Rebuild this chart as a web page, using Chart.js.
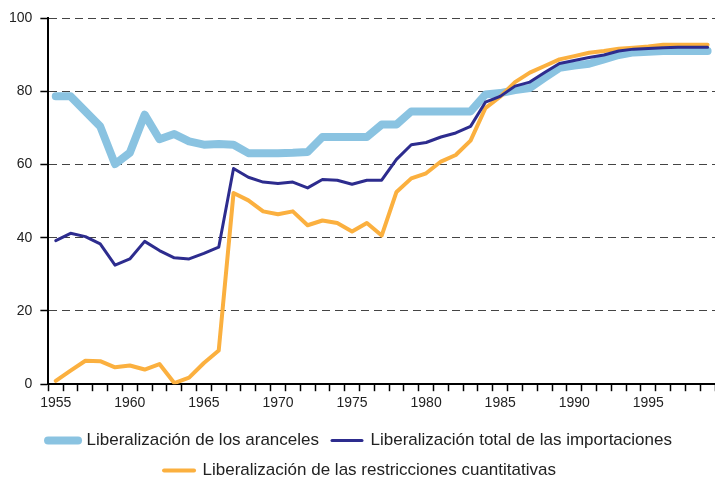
<!DOCTYPE html>
<html>
<head>
<meta charset="utf-8">
<script src="https://cdn.jsdelivr.net/npm/chart.js@4"></script>
<style>
  html, body { margin: 0; padding: 0; background: #fff; }
  #wrap { width: 715px; height: 481px; position: relative; }
</style>
</head>
<body>
<div id="wrap"><canvas id="liberalizacionChart"></canvas></div>
<script>
const years = [
    '1955', '1956', '1957', '1958', '1959', '1960', '1961', '1962', '1963', '1964',
    '1965', '1966', '1967', '1968', '1969', '1970', '1971', '1972', '1973', '1974',
    '1975', '1976', '1977', '1978', '1979', '1980', '1981', '1982', '1983', '1984',
    '1985', '1986', '1987', '1988', '1989', '1990', '1991', '1992', '1993', '1994',
    '1995', '1996', '1997', '1998', '1999'
];

const aranceles = [
    78.6, 78.6, 74.5, 70.4, 60.1, 63.2, 73.6, 66.9, 68.3, 66.3,
    65.4, 65.6, 65.4, 63.1, 63.1, 63.1, 63.2, 63.4, 67.5, 67.5,
    67.5, 67.5, 70.9, 70.9, 74.5, 74.5, 74.5, 74.5, 74.5, 79.1,
    79.5, 80.3, 80.9, 83.7, 86.4, 87.0, 87.5, 88.7, 89.9, 90.6,
    90.8, 91.0, 91.0, 91.0, 91.0
];

const importacionesTotal = [
    39.2, 41.2, 40.3, 38.3, 32.5, 34.2, 39.0, 36.5, 34.5, 34.2,
    35.7, 37.4, 58.9, 56.5, 55.2, 54.8, 55.2, 53.6, 55.9, 55.7,
    54.6, 55.7, 55.7, 61.4, 65.4, 66.0, 67.5, 68.6, 70.4, 77.0,
    78.6, 81.4, 82.5, 85.1, 87.6, 88.4, 89.2, 89.9, 91.0, 91.5,
    91.7, 91.9, 92.0, 92.0, 92.0
];

const restricciones = [
    0.9, 3.7, 6.4, 6.3, 4.6, 5.1, 4.0, 5.5, 0.3, 1.8,
    5.8, 9.2, 52.2, 50.2, 47.2, 46.4, 47.2, 43.4, 44.7, 44.0,
    41.7, 44.0, 40.6, 52.5, 56.2, 57.6, 60.8, 62.6, 66.5, 75.4,
    78.5, 82.5, 85.1, 86.9, 88.7, 89.6, 90.5, 91.0, 91.6, 91.9,
    92.2, 92.7, 92.7, 92.7, 92.7
];

const yTicks = [0, 20, 40, 60, 80, 100];

const FONT = "'Liberation Sans', Arial, sans-serif";

const ctx = document.getElementById('liberalizacionChart').getContext('2d');
new Chart(ctx, {
    type: 'line',
    data: {
        labels: years,
        datasets: [{
            label: 'Liberalización de los aranceles',
            data: aranceles,
            borderColor: '#8ac3e1',
            borderWidth: 8,
            order: 3
        }, {
            label: 'Liberalización total de las importaciones',
            data: importacionesTotal,
            borderColor: '#2d2c8e',
            borderWidth: 3,
            order: 1
        }, {
            label: 'Liberalización de las restricciones cuantitativas',
            data: restricciones,
            borderColor: '#fbb03f',
            borderWidth: 4,
            order: 2
        }]
    },
    options: {
        responsive: true,
        maintainAspectRatio: false,
        animation: false,
        layout: {
            padding: { top: 18, right: -4, bottom: -8, left: 1 }
        },
        elements: {
            point: { radius: 0 },
            line: { tension: 0, borderJoinStyle: 'round', borderCapStyle: 'round' }
        },
        plugins: {
            tooltip: { enabled: false },
            legend: {
                position: 'bottom',
                labels: {
                    usePointStyle: true,
                    pointStyleWidth: 30,
                    padding: 13,
                    color: '#222',
                    font: { family: FONT, size: 17 },
                    generateLabels: chart => chart.data.datasets.map((ds, i) => ({
                        text: ds.label,
                        fillStyle: ds.borderColor,
                        strokeStyle: ds.borderColor,
                        lineWidth: ds.borderWidth,
                        lineCap: 'round',
                        pointStyle: 'line',
                        fontColor: '#222',
                        hidden: !chart.isDatasetVisible(i),
                        datasetIndex: i
                    }))
                }
            }
        },
        scales: {
            x: {
                offset: true,
                afterFit: scale => { scale.height += 3; },
                grid: {
                    offset: true,
                    drawOnChartArea: false,
                    drawTicks: true,
                    tickLength: 7,
                    tickColor: '#000',
                    tickWidth: 1.5
                },
                border: { color: '#000', width: 2 },
                ticks: {
                    autoSkip: false,
                    maxRotation: 0,
                    padding: 4,
                    color: '#222',
                    font: { family: FONT, size: 14 },
                    callback: function(value, index) {
                        const y = years[index];
                        return Number(y) % 5 === 0 ? y : '';
                    }
                }
            },
            y: {
                min: 0,
                max: 100,
                afterBuildTicks: axis => {
                    axis.ticks = yTicks.map(v => ({ value: v }));
                },
                grid: {
                    color: '#444',
                    lineWidth: 1,
                    drawTicks: true,
                    tickLength: 8,
                    tickColor: '#000',
                    tickWidth: 1.5
                },
                border: { color: '#000', width: 2, dash: [8, 5] },
                ticks: {
                    padding: 8,
                    color: '#222',
                    font: { family: FONT, size: 14 }
                }
            }
        }
    }
});
</script>
</body>
</html>
